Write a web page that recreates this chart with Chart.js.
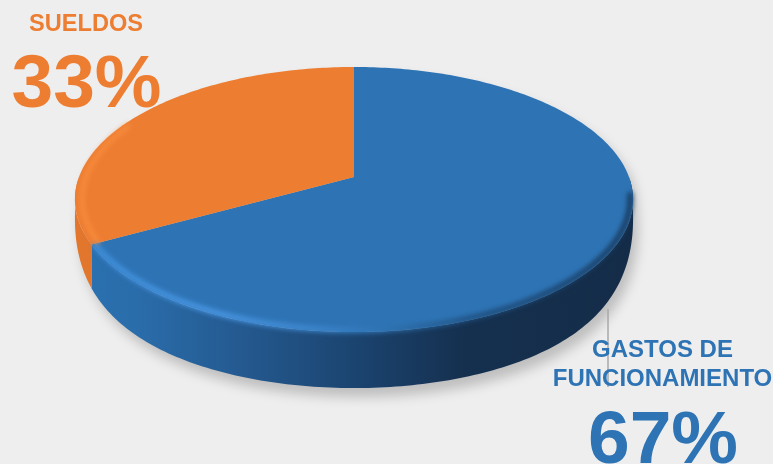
<!DOCTYPE html>
<html>
<head>
<meta charset="utf-8">
<title>Gastos</title>
<script src="https://cdn.jsdelivr.net/npm/chart.js@4"></script>
<style>
  html, body { margin: 0; padding: 0; background: #eeeeef; overflow: hidden; }
  canvas { display: block; }
</style>
</head>
<body>
<canvas id="pie3d" width="773" height="464"></canvas>
<script>
const categories = ["GASTOS DE FUNCIONAMIENTO", "SUELDOS"];
const shares = [67, 33];
const sliceColors = ["#2e74b5", "#ed7d31"];

// where the tilted disc sits on the page
const CX = 354, CY = 177, RX = 275, RY = 128.7, TILT = 0.17;
const DEPTH = 56;

// unit disc -> page, with a bit of perspective so the near edge looks bigger
function project(a, r, drop) {
  const u = Math.cos(a) * r, v = Math.sin(a) * r;
  const w = 1 - TILT * v;
  const x = RX * u / w, y = RY * v / w;
  if (!drop) return [CX + x, CY + y];
  // wall is full height at the front and runs out at the widest point of the disc
  const h = v > 0 ? 1 - Math.pow(1 - v, 2.3) : 0;
  return [CX + x, CY + y + DEPTH * h];
}

function tracePoints(ctx, a0, a1, r, drop, first) {
  const n = Math.max(2, Math.ceil(Math.abs(a1 - a0) * 60));
  for (let i = 0; i <= n; i++) {
    const p = project(a0 + (a1 - a0) * i / n, r, drop);
    if (i === 0 && first) ctx.moveTo(p[0], p[1]);
    else ctx.lineTo(p[0], p[1]);
  }
}

function hGrad(ctx, stops) {
  const g = ctx.createLinearGradient(CX - RX, 0, CX + RX, 0);
  stops.forEach((s) => g.addColorStop(s[0], s[1]));
  return g;
}

const pie3d = {
  id: "pie3d",
  beforeDatasetsDraw(chart) {
    const ctx = chart.ctx;
    const arcs = chart.getDatasetMeta(0).data;
    ctx.save();

    // soft shadow on the page
    ctx.save();
    ctx.filter = "blur(6px)";
    ctx.fillStyle = "rgba(0,0,0,0.2)";
    ctx.beginPath();
    for (let i = 0; i <= 120; i++) {
      const p = project(i / 120 * Math.PI * 2, 1, true);
      ctx.lineTo(p[0] + 5, p[1] + 9);
    }
    ctx.closePath();
    ctx.fill();
    ctx.restore();

    // side walls
    arcs.forEach((arc, i) => {
      const a0 = Math.max(arc.startAngle, 0);
      const a1 = Math.min(arc.endAngle, Math.PI);
      if (a1 <= a0) return;
      ctx.beginPath();
      tracePoints(ctx, a0, a1, 1, false, true);
      tracePoints(ctx, a1, a0, 1, true, false);
      ctx.closePath();
      ctx.fillStyle = i === 0
        ? hGrad(ctx, [[0, "#2a70b0"], [0.1, "#2a6dab"], [0.3, "#24598f"], [0.5, "#1b4470"], [0.7, "#15304f"], [1, "#142c48"]])
        : "#e2762c";
      ctx.fill();
    });

    // top face
    arcs.forEach((arc, i) => {
      ctx.beginPath();
      const c = project(0, 0, false);
      ctx.moveTo(c[0], c[1]);
      tracePoints(ctx, arc.startAngle, arc.endAngle, 1, false, false);
      ctx.closePath();
      ctx.fillStyle = sliceColors[i];
      ctx.fill();
    });

    // bevel along the rim
    arcs.forEach((arc, i) => {
      ctx.save();
      ctx.filter = i === 0 ? "blur(2.6px)" : "blur(2.5px)";
      ctx.lineWidth = 5.5;
      ctx.beginPath();
      if (i === 0) {
        tracePoints(ctx, 0.12, arc.endAngle, 0.99, false, true);
        ctx.strokeStyle = hGrad(ctx, [[0, "#3f8fdb"], [0.25, "#4a97e4"], [0.42, "#3f88cf"], [0.55, "#2f74b3"], [0.72, "#1f4f7e"], [1, "#183a5e"]]);
      } else {
        tracePoints(ctx, arc.startAngle, Math.min(arc.endAngle, 3.6), 0.975, false, true);
        ctx.strokeStyle = "#f68a3c";
      }
      ctx.stroke();
      ctx.restore();
    });

    ctx.restore();

    // Chart.js skips afterDatasetsDraw once this returns false, so the default arcs stay out
    drawLabels(ctx);
    return false;
  }
};

function drawLabels(ctx) {
  ctx.save();

  // leader line for the big slice
  ctx.strokeStyle = "#a9a9a9";
  ctx.lineWidth = 1.5;
  ctx.beginPath();
  ctx.moveTo(608, 309);
  ctx.lineTo(608, 387);
  ctx.stroke();

  ctx.textAlign = "center";
  ctx.textBaseline = "alphabetic";

  // SUELDOS
  ctx.fillStyle = sliceColors[1];
  ctx.font = "bold 23.6px 'Liberation Sans'";
  ctx.fillText(categories[1], 86, 31);
  ctx.font = "bold 75px 'Liberation Sans'";
  ctx.fillText(shares[1] + "%", 86.5, 107);

  // GASTOS DE FUNCIONAMIENTO
  const words = categories[0].split(" ");
  ctx.fillStyle = sliceColors[0];
  ctx.font = "bold 24px 'Liberation Sans'";
  ctx.fillText(words[0] + " " + words[1], 662.5, 357);
  ctx.fillText(words[2], 662.5, 386);
  ctx.font = "bold 75px 'Liberation Sans'";
  ctx.fillText(shares[0] + "%", 663, 463);

  ctx.restore();
}

new Chart(document.getElementById("pie3d"), {
  type: "pie",
  data: {
    labels: categories,
    datasets: [{ data: shares, backgroundColor: sliceColors, borderWidth: 0 }]
  },
  options: {
    responsive: false,
    animation: false,
    plugins: { legend: { display: false }, tooltip: { enabled: false } }
  },
  plugins: [pie3d]
});
</script>
</body>
</html>
